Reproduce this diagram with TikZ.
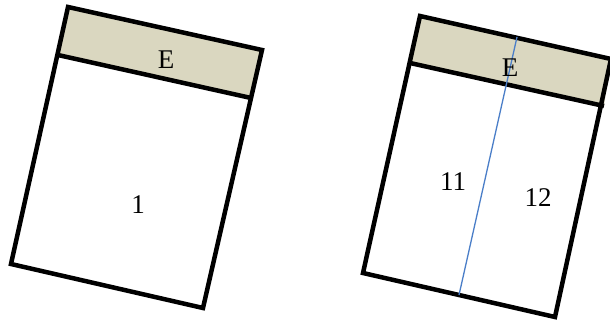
\documentclass[tikz,border=0pt]{standalone}
\usepackage{fontspec}
\setmainfont{Liberation Serif}
\definecolor{bandtan}{HTML}{DAD7C0}
\definecolor{cutblue}{HTML}{4A7EC8}
\begin{document}
\begin{tikzpicture}[x=1pt,y=-1pt,
  frame/.style={draw=black,line width=4.5pt,line join=miter},
  band/.style={fill=bandtan},
  lbl/.style={font=\fontsize{27}{31}\selectfont,inner sep=0pt}]
\useasboundingbox (0,0) rectangle (610,321);
% left
\fill[band] (68,7) -- (262,50) -- (251,98) -- (58,55) -- cycle;
\draw[frame] (68,7) -- (262,50) -- (203,308) -- (11,264) -- cycle;
\draw[frame] (58,55) -- (251,98);
\node[lbl] (e1) at (166,60) {E};
\node[lbl] (one) at (138,205) {1};
% right
\fill[band] (420,16) -- (611,59) -- (604,106) -- (410,63) -- cycle;
\draw[frame] (420,16) -- (611,59) -- (555,317) -- (363,273) -- cycle;
\draw[frame] (410,63) -- (604,106);
\draw[cutblue,line width=1.3pt] (517,37) -- (459,295);
\node[lbl] (e2) at (510,68) {E};
\node[lbl] (eleven) at (453,182) {11};
\node[lbl] (twelve) at (538,198) {12};
\end{tikzpicture}
\end{document}
